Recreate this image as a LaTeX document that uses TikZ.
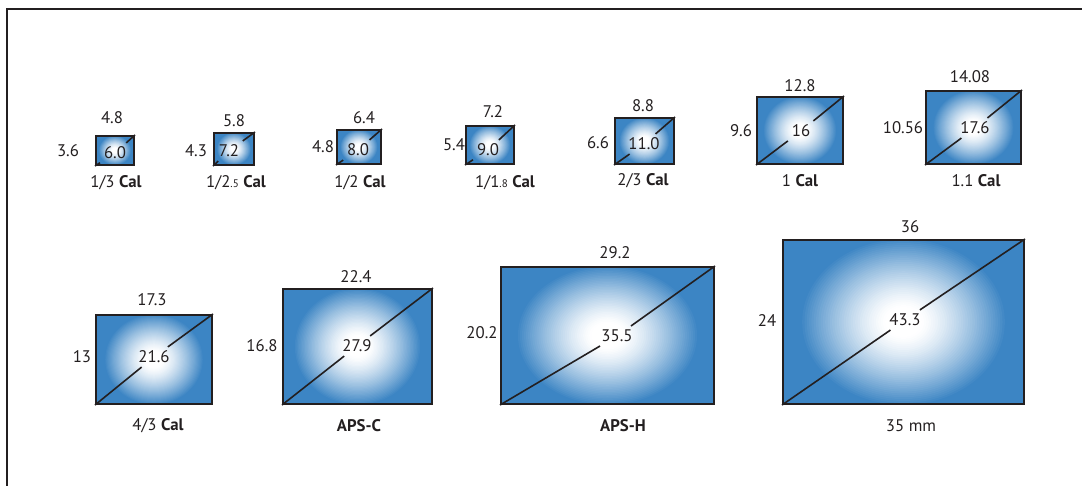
\documentclass[tikz,border=0pt]{standalone}
\usepackage{fontspec}
\setmainfont{PT Sans}
\usetikzlibrary{fit,calc}
\definecolor{sblue}{RGB}{60,133,196}
\definecolor{sline}{RGB}{35,31,32}
\tikzset{
  sensor/.style={rectangle, draw=sline, line width=1pt, fill=sblue, inner sep=0pt,
    path picture={
      \foreach \k in {0,...,44}{
        \pgfmathsetmacro\rr{0.86-\k*0.0191}
        \pgfmathsetmacro\pct{min(100,100*pow(max(0.0001,(\rr-0.16)/0.70),1.3))}
        \fill[sblue!\pct!white] let \p1=($(path picture bounding box.north east)-(path picture bounding box.center)$) in
          (path picture bounding box.center) ellipse [x radius={\rr*abs(\x1)}, y radius={1.2*\rr*abs(\y1)}];
      }
    }},
  lbl/.style={font=\fontsize{8.4}{10}\selectfont, text=sline, inner sep=0pt},
  dlbl/.style={lbl, inner sep=1.8pt},
  diag/.style={draw=sline, line width=0.8pt},
  frame/.style={draw=sline, line width=0.6pt}
}
\newcommand\sm[1]{{\fontsize{5.5}{6}\selectfont #1}}
\begin{document}
\begin{tikzpicture}[x=0.5pt,y=-0.5pt]
\useasboundingbox (0,0) rectangle (1082,486);
\coordinate (fa) at (7,486);
\coordinate (fb) at (7,9);
\coordinate (fc) at (1082,9);
\draw[frame] (fa) -- (fb) -- (fc);

% top row
\node[sensor, fit={(96,136) (134,165)}] (b1) {};
\node[dlbl] (d1) at (115,153) {6.0};
\draw[diag] (b1.south west) -- (d1) -- (b1.north east);
\node[lbl] (t1) at (112,118) {4.8};
\node[lbl] (l1) at (68,151) {3.6};
\node[lbl] (n1) at (116,183) {1/3 \textbf{Cal}};

\node[sensor, fit={(214,133) (254,165)}] (b2) {};
\node[dlbl] (d2) at (229,151) {7.2};
\draw[diag] (b2.south west) -- (d2) -- (b2.north east);
\node[lbl] (t2) at (234,121) {5.8};
\node[lbl] (l2) at (196,151) {4.3};
\node[lbl] (n2) at (236,183) {1/2\sm{.5} \textbf{Cal}};

\node[sensor, fit={(337,130) (381,164)}] (b3) {};
\node[dlbl] (d3) at (358,150) {8.0};
\draw[diag] (b3.south west) -- (d3) -- (b3.north east);
\node[lbl] (t3) at (364,118) {6.4};
\node[lbl] (l3) at (323,147) {4.8};
\node[lbl] (n3) at (360,183) {1/2 \textbf{Cal}};

\node[sensor, fit={(466,126) (514,164)}] (b4) {};
\node[dlbl] (d4) at (488,150) {9.0};
\draw[diag] (b4.south west) -- (d4) -- (b4.north east);
\node[lbl] (t4) at (493,112) {7.2};
\node[lbl] (l4) at (454,145) {5.4};
\node[lbl] (n4) at (505,183) {1/1\sm{.8} \textbf{Cal}};

\node[sensor, fit={(615,118) (674,164)}] (b5) {};
\node[dlbl] (d5) at (644,144) {11.0};
\draw[diag] (b5.south west) -- (d5) -- (b5.north east);
\node[lbl] (t5) at (643,106) {8.8};
\node[lbl] (l5) at (598,143) {6.6};
\node[lbl] (n5) at (643,181) {2/3 \textbf{Cal}};

\node[sensor, fit={(757,97) (843,164)}] (b6) {};
\node[dlbl] (d6) at (801,131) {16};
\draw[diag] (b6.south west) -- (d6) -- (b6.north east);
\node[lbl] (t6) at (800,86) {12.8};
\node[lbl] (l6) at (741,131) {9.6};
\node[lbl] (n6) at (800,181) {1 \textbf{Cal}};

\node[sensor, fit={(926,91) (1021,164)}] (b7) {};
\node[dlbl] (d7) at (975,128) {17.6};
\draw[diag] (b7.south west) -- (d7) -- (b7.north east);
\node[lbl] (t7) at (970,77) {14.08};
\node[lbl] (l7) at (903,128) {10.56};
\node[lbl] (n7) at (976,181) {1.1 \textbf{Cal}};

% bottom row
\node[sensor, fit={(96,315) (212,404)}] (b8) {};
\node[dlbl] (d8) at (154,357) {21.6};
\draw[diag] (b8.south west) -- (d8) -- (b8.north east);
\node[lbl] (t8) at (152,300) {17.3};
\node[lbl] (l8) at (82,357) {13};
\node[lbl] (n8) at (158,426) {4/3 \textbf{Cal}};

\node[sensor, fit={(283,289) (432,404)}] (b9) {};
\node[dlbl] (d9) at (357,346) {27.9};
\draw[diag] (b9.south west) -- (d9) -- (b9.north east);
\node[lbl] (t9) at (356,277) {22.4};
\node[lbl] (l9) at (262,346) {16.8};
\node[lbl] (n9) at (359,426) {\textbf{APS-C}};

\node[sensor, fit={(501,267) (714,404)}] (b10) {};
\node[dlbl] (d10) at (617,336) {35.5};
\draw[diag] (b10.south west) -- (d10) -- (b10.north east);
\node[lbl] (t10) at (615,253) {29.2};
\node[lbl] (l10) at (482,333) {20.2};
\node[lbl] (n10) at (623,426) {\textbf{APS-H}};

\node[sensor, fit={(783,240) (1024,404)}] (b11) {};
\node[dlbl] (d11) at (905,320) {43.3};
\draw[diag] (b11.south west) -- (d11) -- (b11.north east);
\node[lbl] (t11) at (910,227) {36};
\node[lbl] (l11) at (767,321) {24};
\node[lbl] (n11) at (911,426) {35 mm};
\end{tikzpicture}
\end{document}
